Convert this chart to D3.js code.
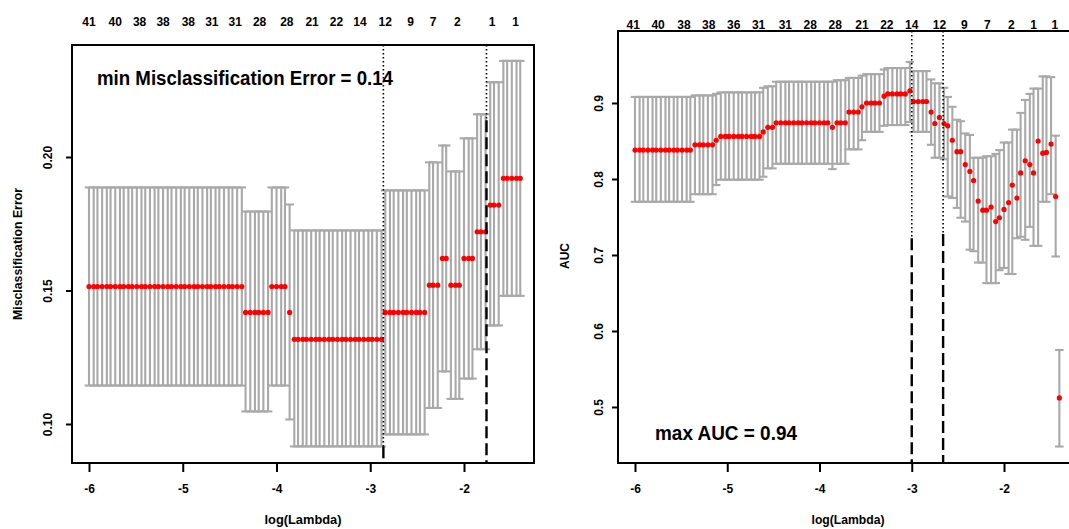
<!DOCTYPE html>
<html>
<head>
<meta charset="utf-8">
<script src="https://cdn.jsdelivr.net/npm/d3@7"></script>
<style>
  body { margin: 0; background: #fff; }
  svg { display: block; font-family: "Liberation Sans", Arial, sans-serif; }
</style>
</head>
<body>
<svg width="1069" height="529"></svg>
<script>
// lambda path (log scale), 100 values, same for both fits
const logLambda = [
  -6.00,-5.95,-5.91,-5.86,-5.81,-5.77,-5.72,-5.67,-5.63,-5.58,
  -5.54,-5.49,-5.44,-5.40,-5.35,-5.30,-5.26,-5.21,-5.16,-5.12,
  -5.07,-5.02,-4.98,-4.93,-4.88,-4.84,-4.79,-4.74,-4.70,-4.65,
  -4.61,-4.56,-4.51,-4.47,-4.42,-4.37,-4.33,-4.28,-4.23,-4.19,
  -4.14,-4.09,-4.05,-4.00,-3.95,-3.91,-3.86,-3.81,-3.77,-3.72,
  -3.68,-3.63,-3.58,-3.54,-3.49,-3.44,-3.40,-3.35,-3.30,-3.26,
  -3.21,-3.16,-3.12,-3.07,-3.02,-2.98,-2.93,-2.88,-2.84,-2.79,
  -2.75,-2.70,-2.65,-2.61,-2.56,-2.51,-2.47,-2.42,-2.37,-2.33,
  -2.28,-2.23,-2.19,-2.14,-2.09,-2.05,-2.00,-1.95,-1.91,-1.86,
  -1.82,-1.77,-1.72,-1.68,-1.63,-1.58,-1.54,-1.49,-1.44,-1.40
];

// misclassification error: [how many lambdas, cvm, cvup, cvlo]
const leftRuns = [
  [36, 0.1515, 0.1886, 0.1144],
  [6,  0.1418, 0.1796, 0.1047],
  [4,  0.1515, 0.1886, 0.1144],
  [1,  0.1418, 0.1822, 0.1017],
  [21, 0.1317, 0.1725, 0.0916],
  [10, 0.1418, 0.1875, 0.0961],
  [3,  0.1520, 0.1980, 0.1060],
  [2,  0.1620, 0.2043, 0.1197],
  [3,  0.1520, 0.1946, 0.1094],
  [3,  0.1620, 0.2070, 0.1170],
  [3,  0.1720, 0.2160, 0.1280],
  [3,  0.1820, 0.2280, 0.1369],
  [5,  0.1920, 0.2360, 0.1480]
];

// AUC: same layout, then one entry per lambda for the tail
const rightRuns = [
  [14, 0.838, 0.908, 0.770],
  [5,  0.845, 0.910, 0.780],
  [1,  0.851, 0.912, 0.792],
  [10, 0.856, 0.914, 0.799],
  [1,  0.862, 0.920, 0.803],
  [2,  0.868, 0.922, 0.814],
  [13, 0.874, 0.928, 0.820],
  [1,  0.868, 0.928, 0.813],
  [3,  0.874, 0.930, 0.820],
  [3,  0.888, 0.933, 0.839],
  [1,  0.895, 0.936, 0.851],
  [4,  0.900, 0.938, 0.862],
  [1,  0.909, 0.944, 0.870],
  [5,  0.912, 0.946, 0.871],
  [1,  0.916, 0.954, 0.875],
  [4,  0.902, 0.942, 0.862],
  [1, 0.888, 0.931, 0.845],
  [1, 0.873, 0.926, 0.828],
  [1, 0.881, 0.926, 0.828],
  [1, 0.873, 0.920, 0.826],
  [1, 0.870, 0.908, 0.777],
  [1, 0.851, 0.895, 0.775],
  [1, 0.836, 0.878, 0.762],
  [1, 0.836, 0.876, 0.749],
  [1, 0.819, 0.860, 0.744],
  [1, 0.810, 0.858, 0.707],
  [1, 0.798, 0.828, 0.705],
  [1, 0.771, 0.828, 0.690],
  [1, 0.759, 0.828, 0.690],
  [1, 0.759, 0.830, 0.663],
  [1, 0.763, 0.830, 0.663],
  [1, 0.744, 0.833, 0.663],
  [1, 0.749, 0.838, 0.680],
  [1, 0.760, 0.848, 0.683],
  [1, 0.769, 0.848, 0.675],
  [1, 0.792, 0.865, 0.675],
  [1, 0.775, 0.865, 0.722],
  [1, 0.808, 0.887, 0.724],
  [1, 0.824, 0.904, 0.720],
  [1, 0.819, 0.912, 0.737],
  [1, 0.808, 0.919, 0.712],
  [1, 0.850, 0.919, 0.712],
  [1, 0.834, 0.935, 0.770],
  [1, 0.835, 0.935, 0.770],
  [1, 0.846, 0.934, 0.780],
  [1, 0.777, 0.857, 0.698],
  [1, 0.512, 0.575, 0.448]
];

// number of nonzero coefficients along the top
const leftTopLabels = ["41","40","38","38","38","31","31","28","28","21","22","14","12","9","7","2","1","1"];
const leftTopAt = [-6.00,-5.72,-5.46,-5.21,-4.94,-4.69,-4.44,-4.18,-3.89,-3.62,-3.36,-3.11,-2.84,-2.57,-2.33,-2.07,-1.70,-1.45];
const rightTopLabels = ["41","40","38","38","36","31","31","28","28","21","22","14","12","9","7","2","1","1"];
const rightTopAt = [-6.02,-5.75,-5.47,-5.20,-4.93,-4.66,-4.37,-4.10,-3.83,-3.54,-3.27,-3.00,-2.70,-2.43,-2.18,-1.92,-1.68,-1.45];

const xTicks = [-6, -5, -4, -3, -2];
const leftYTicks = [0.10, 0.15, 0.20];
const rightYTicks = [0.5, 0.6, 0.7, 0.8, 0.9];

// lambda.min, lambda.1se
const leftLines = [-2.86, -1.76];
const rightLines = [-3.00, -2.66];

const svg = d3.select("svg");

function expand(runs) {
  let out = [];
  runs.forEach(r => {
    for (let k = 0; k < r[0]; k++) {
      out.push({ L: logLambda[out.length], m: r[1], up: r[2], lo: r[3] });
    }
  });
  return out;
}

function panel(opt) {
  const x = d3.scaleLinear().domain([-6, -2]).range(opt.xr);
  const y = d3.scaleLinear().domain(opt.yd).range(opt.yr);
  const b = opt.box;
  const g = svg.append("g");
  const pts = expand(opt.runs);
  const barw = 0.046;

  const clipId = "clip" + opt.id;
  svg.append("clipPath").attr("id", clipId)
    .append("rect").attr("x", b.x0).attr("y", b.y0)
    .attr("width", b.x1 - b.x0).attr("height", b.y1 - b.y0);
  const plot = g.append("g").attr("clip-path", `url(#${clipId})`);

  // error bars
  const bars = plot.append("g").attr("stroke", "#a9a9a9").attr("stroke-width", 2.1);
  bars.selectAll(".v").data(pts).enter().append("line")
    .attr("x1", d => x(d.L)).attr("x2", d => x(d.L))
    .attr("y1", d => y(d.up)).attr("y2", d => y(d.lo));
  bars.selectAll(".cu").data(pts).enter().append("line")
    .attr("x1", d => x(d.L - barw)).attr("x2", d => x(d.L + barw))
    .attr("y1", d => y(d.up)).attr("y2", d => y(d.up));
  bars.selectAll(".cl").data(pts).enter().append("line")
    .attr("x1", d => x(d.L - barw)).attr("x2", d => x(d.L + barw))
    .attr("y1", d => y(d.lo)).attr("y2", d => y(d.lo));

  // red points
  plot.append("g").selectAll("circle").data(pts).enter().append("circle")
    .attr("cx", d => x(d.L)).attr("cy", d => y(d.m))
    .attr("r", 2.6).attr("fill", "#ff0000");

  // vertical reference lines: dotted at top, long dashes lower down
  opt.lines.forEach((v, k) => {
    const split = b.y0 + (b.y1 - b.y0) * opt.split[k];
    plot.append("line").attr("x1", x(v)).attr("x2", x(v))
      .attr("y1", b.y0).attr("y2", split)
      .attr("stroke", "#000").attr("stroke-width", 1.6).attr("stroke-dasharray", "1.5,2.5");
    plot.append("line").attr("x1", x(v)).attr("x2", x(v))
      .attr("y1", split).attr("y2", b.y1)
      .attr("stroke", "#000").attr("stroke-width", 2.4).attr("stroke-dasharray", "12,5");
  });

  // box
  g.append("rect").attr("x", b.x0).attr("y", b.y0)
    .attr("width", b.x1 - b.x0).attr("height", b.y1 - b.y0)
    .attr("fill", "none").attr("stroke", "#000").attr("stroke-width", 2);

  // bottom axis
  const xa = g.append("g").attr("transform", `translate(0,${b.y1})`)
    .call(d3.axisBottom(x).tickValues(xTicks).tickSize(9).tickPadding(12).tickFormat(d => String(d)));
  xa.select(".domain").remove();
  xa.selectAll("line").attr("stroke-width", 2);
  xa.selectAll("text").attr("font-size", 12).attr("font-weight", "bold")
    .attr("font-family", "Liberation Sans, Arial, sans-serif").attr("fill", "#000");

  // left axis, rotated labels
  const ya = g.append("g").attr("transform", `translate(${b.x0},0)`)
    .call(d3.axisLeft(y).tickValues(opt.yTicks).tickSize(6).tickFormat(d3.format(opt.yfmt)));
  ya.select(".domain").remove();
  ya.selectAll("line").attr("stroke-width", 2);
  ya.selectAll("text")
    .attr("x", null).attr("dy", "0.35em")
    .attr("transform", `translate(${-opt.ylabOff},0) rotate(-90)`)
    .attr("text-anchor", "middle")
    .attr("font-size", 12).attr("font-weight", "bold")
    .attr("font-family", "Liberation Sans, Arial, sans-serif").attr("fill", "#000");

  // top labels
  g.append("g").selectAll("text").data(opt.topLabels).enter().append("text")
    .attr("x", (d, i) => x(opt.topAt[i])).attr("y", opt.topY).attr("dy", "0.35em")
    .attr("text-anchor", "middle").attr("font-size", 12).attr("font-weight", "bold")
    .text(d => d);

  // axis titles
  g.append("text").attr("x", (b.x0 + b.x1) / 2).attr("y", 520).attr("dy", "0.35em")
    .attr("text-anchor", "middle").attr("font-size", 12).attr("font-weight", "bold")
    .attr("textLength", opt.xTitleLen).attr("lengthAdjust", "spacingAndGlyphs")
    .text("log(Lambda)");
  const yt = g.append("text")
    .attr("transform", `translate(${opt.yTitleX},${opt.yTitleY}) rotate(-90)`)
    .attr("dy", "0.35em").attr("text-anchor", "middle")
    .attr("font-size", 12).attr("font-weight", "bold")
    .text(opt.yTitle);
  if (opt.yTitleLen) yt.attr("textLength", opt.yTitleLen).attr("lengthAdjust", "spacingAndGlyphs");

  // annotation
  g.append("text").attr("x", opt.note.x).attr("y", opt.note.y)
    .attr("font-size", 20).attr("font-weight", "bold")
    .attr("textLength", opt.note.len).attr("lengthAdjust", "spacingAndGlyphs")
    .text(opt.note.text);
}

panel({
  id: "L",
  xr: [89, 464], yd: [0.10, 0.20], yr: [424, 157],
  box: { x0: 72, x1: 534, y0: 45, y1: 463 },
  runs: leftRuns, lines: leftLines, split: [0.96, 0.18],
  yTicks: leftYTicks, yfmt: ".2f", ylabOff: 24,
  topLabels: leftTopLabels, topAt: leftTopAt, topY: 22,
  xTitleLen: 77,
  yTitle: "Misclassification Error", yTitleX: 18, yTitleY: 254, yTitleLen: 132,
  note: { x: 97, y: 85, len: 296, text: "min Misclassification Error = 0.14" }
});

panel({
  id: "R",
  xr: [635, 1004], yd: [0.5, 0.9], yr: [407, 103],
  box: { x0: 618, x1: 1078, y0: 31, y1: 463 },
  runs: rightRuns, lines: rightLines, split: [0.48, 0.47],
  yTicks: rightYTicks, yfmt: ".1f", ylabOff: 19,
  topLabels: rightTopLabels, topAt: rightTopAt, topY: 25,
  xTitleLen: 73,
  yTitle: "AUC", yTitleX: 565, yTitleY: 256, yTitleLen: null,
  note: { x: 655, y: 440, len: 142, text: "max AUC = 0.94" }
});
</script>
</body>
</html>
